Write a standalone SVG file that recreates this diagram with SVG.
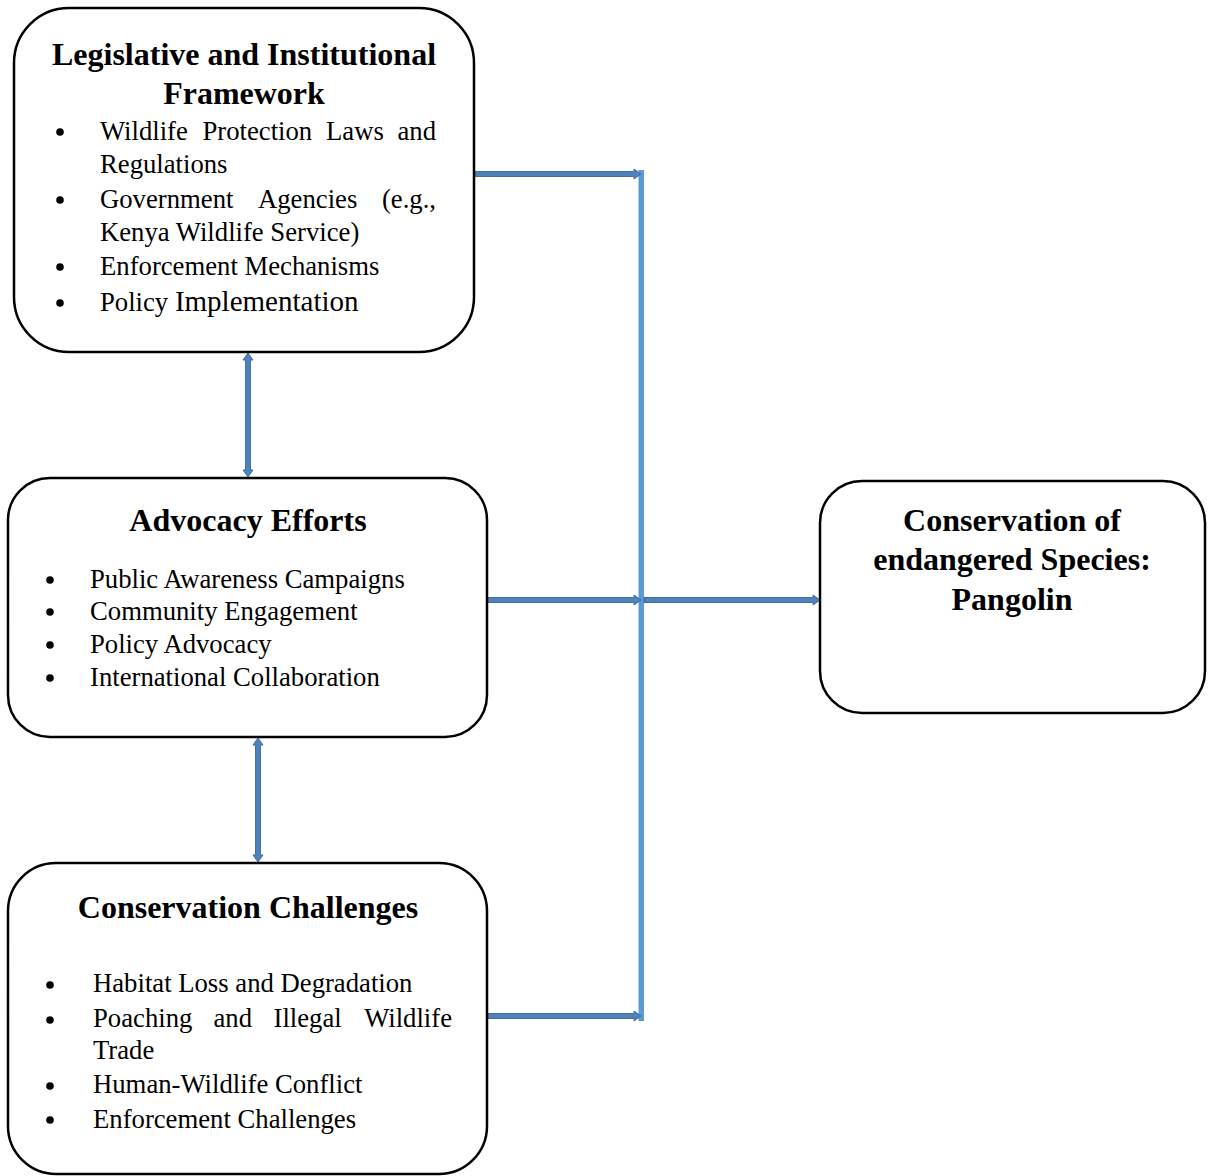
<svg xmlns="http://www.w3.org/2000/svg" width="1209" height="1176" viewBox="0 0 1209 1176">
<style>
.box{fill:#fff;stroke:#000;stroke-width:2.5}
.t{font-family:"Liberation Serif","Times New Roman",serif;font-weight:bold;font-size:32px;text-anchor:middle;fill:#000}
.b{font-family:"Liberation Serif","Times New Roman",serif;font-size:26.7px;fill:#000}
.arr{fill:#4F81BD;stroke:#41719C;stroke-width:1}
.bus{fill:#5B9BD5}
</style>
<rect width="1209" height="1176" fill="#fff"/>
<g id="connectors">
<rect class="bus" x="638.5" y="170" width="5.5" height="851"/>
<path class="arr" d="M475,171.5 H634 V169 L641,174 L634,179 V176.5 H475 Z"/>
<path class="arr" d="M488,597.5 H634 V595 L641,600 L634,605 V602.5 H488 Z"/>
<path class="arr" d="M644,597.5 H813 V595 L820,600 L813,605 V602.5 H644 Z"/>
<path class="arr" d="M488,1013.5 H634 V1011 L641,1016 L634,1021 V1018.5 H488 Z"/>
<path class="arr" d="M245.5,360 V470 H243 L248,477 L253,470 H250.5 V360 H253 L248,353 L243,360 Z"/>
<path class="arr" d="M255.5,745 V855 H253 L258,862 L263,855 H260.5 V745 H263 L258,738 L253,745 Z"/>
</g>
<g id="legislative">
<rect class="box" x="14" y="8" width="460" height="344" rx="55"/>
<text class="t" x="244" y="65">Legislative and Institutional</text>
<text class="t" x="244" y="104">Framework</text>
<g class="b">
<circle cx="60" cy="132" r="3.8"/><circle cx="60" cy="200" r="3.8"/><circle cx="60" cy="267" r="3.8"/><circle cx="60" cy="303" r="3.8"/>
<text x="100" y="140">Wildlife</text><text x="202.5" y="140">Protection</text><text x="326" y="140">Laws</text><text x="436" y="140" text-anchor="end">and</text>
<text x="100" y="173">Regulations</text>
<text x="100" y="208">Government</text><text x="258" y="208">Agencies</text><text x="436" y="208" text-anchor="end">(e.g.,</text>
<text x="100" y="241">Kenya Wildlife Service)</text>
<text x="100" y="275">Enforcement Mechanisms</text>
<text x="100" y="311">Policy <tspan font-size="29">Implementation</tspan></text>
</g>
</g>
<g id="advocacy">
<rect class="box" x="8" y="478" width="479" height="259" rx="42"/>
<text class="t" x="248" y="531">Advocacy Efforts</text>
<g class="b">
<circle cx="50" cy="580" r="3.8"/><circle cx="50" cy="612" r="3.8"/><circle cx="50" cy="645" r="3.8"/><circle cx="50" cy="678" r="3.8"/>
<text x="90" y="588">Public Awareness Campaigns</text>
<text x="90" y="620">Community Engagement</text>
<text x="90" y="653">Policy Advocacy</text>
<text x="90" y="686">International Collaboration</text>
</g>
</g>
<g id="challenges">
<rect class="box" x="8" y="863" width="479" height="311" rx="48"/>
<text class="t" x="248" y="918">Conservation Challenges</text>
<g class="b">
<circle cx="50" cy="985" r="3.8"/><circle cx="50" cy="1020" r="3.8"/><circle cx="50" cy="1086" r="3.8"/><circle cx="50" cy="1120" r="3.8"/>
<text x="93" y="992">Habitat Loss and Degradation</text>
<text x="93" y="1027">Poaching</text><text x="213.5" y="1027">and</text><text x="273.5" y="1027">Illegal</text><text x="452" y="1027" text-anchor="end">Wildlife</text>
<text x="93" y="1059">Trade</text>
<text x="93" y="1093">Human-Wildlife Conflict</text>
<text x="93" y="1128">Enforcement Challenges</text>
</g>
</g>
<g id="conservation">
<rect class="box" x="820" y="481" width="385" height="232" rx="42"/>
<text class="t" x="1012" y="531">Conservation of</text>
<text class="t" x="1012" y="570">endangered Species:</text>
<text class="t" x="1012" y="610">Pangolin</text>
</g>
</svg>
